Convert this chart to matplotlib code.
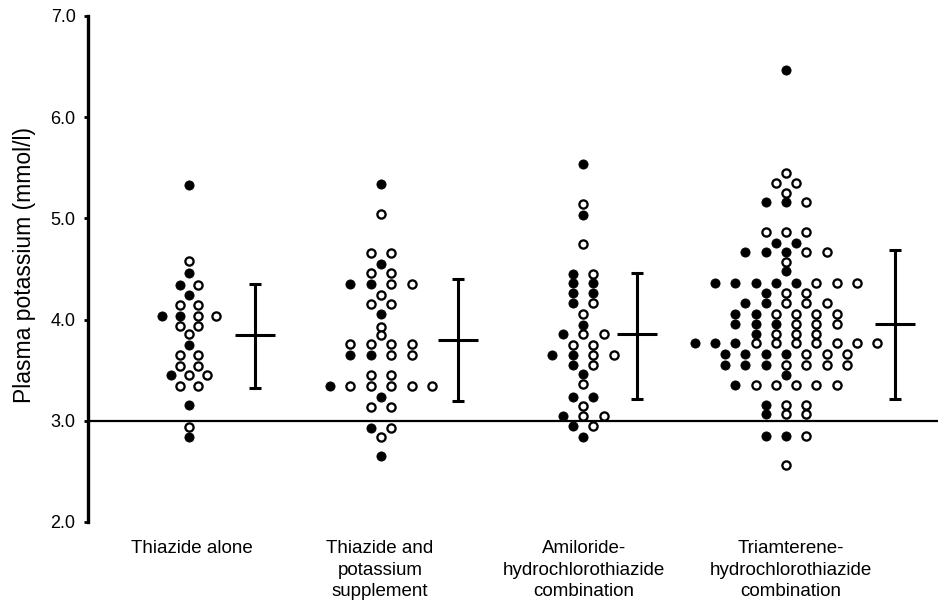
import matplotlib
matplotlib.use("Agg")
import matplotlib.pyplot as plt

plt.rcParams['font.family'] = ['Liberation Sans', 'DejaVu Sans']

# ---------------- data ----------------
categories = ["Thiazide alone",
              "Thiazide and\npotassium\nsupplement",
              "Amiloride-\nhydrochlorothiazide\ncombination",
              "Triamterene-\nhydrochlorothiazide\ncombination"]

thiazide_filled = [5.33, 4.46, 4.34, 4.24, 4.04, 4.04, 3.75, 3.45, 3.16, 2.84]
thiazide_open = [4.58, 4.34, 4.14, 4.14, 4.04, 4.04, 3.94, 3.94, 3.86, 3.65, 3.65,
                 3.54, 3.54, 3.45, 3.45, 3.34, 3.34, 2.94]

supplement_filled = [5.34, 4.55, 4.35, 4.35, 4.06, 3.65, 3.65, 3.34, 3.24, 2.93, 2.65]
supplement_open = [5.04, 4.66, 4.66, 4.46, 4.46, 4.35, 4.35, 4.24, 4.15, 4.15, 3.93,
                   3.85, 3.76, 3.76, 3.76, 3.76, 3.65, 3.65, 3.45, 3.45,
                   3.34, 3.34, 3.34, 3.34, 3.34, 3.14, 3.14, 2.93, 2.84]

amiloride_filled = [5.54, 5.03, 4.45, 4.36, 4.36, 4.26, 4.26, 4.16, 3.95, 3.86,
                    3.65, 3.65, 3.55, 3.46, 3.24, 3.24, 3.05, 2.95, 2.84]
amiloride_open = [5.14, 4.75, 4.45, 4.16, 4.06, 3.86, 3.86, 3.75, 3.75, 3.65, 3.65,
                  3.55, 3.36, 3.15, 3.05, 3.05, 2.95]

triamterene_filled = [6.47, 5.16, 5.16, 4.76, 4.76, 4.67, 4.67, 4.67, 4.48,
                      4.36, 4.36, 4.36, 4.36, 4.36, 4.26, 4.16, 4.16, 4.06, 4.06,
                      3.96, 3.96, 3.96, 3.86, 3.77, 3.77, 3.77,
                      3.66, 3.66, 3.66, 3.66, 3.55, 3.55, 3.55, 3.45, 3.35,
                      3.16, 3.07, 2.85, 2.85]
triamterene_open = [5.45, 5.35, 5.35, 5.25, 5.16, 4.87, 4.87, 4.87, 4.67, 4.67, 4.57,
                    4.36, 4.36, 4.36, 4.26, 4.26, 4.16, 4.16, 4.16,
                    4.06, 4.06, 4.06, 4.06, 3.96, 3.96, 3.96, 3.86, 3.86, 3.86,
                    3.77, 3.77, 3.77, 3.77, 3.77, 3.77, 3.77,
                    3.66, 3.66, 3.66, 3.55, 3.55, 3.55, 3.55,
                    3.35, 3.35, 3.35, 3.35, 3.35, 3.16, 3.16, 3.07, 3.07, 2.85, 2.56]

means = [3.85, 3.80, 3.86, 3.96]
sd_low = [3.32, 3.20, 3.22, 3.22]
sd_high = [4.35, 4.40, 4.46, 4.69]

reference_level = 3.0
yticks = [2.0, 3.0, 4.0, 5.0, 6.0, 7.0]
ytick_labels = ["2.0", "3.0", "4.0", "5.0", "6.0", "7.0"]
ylabel = "Plasma potassium (mmol/l)"

filled_groups = [thiazide_filled, supplement_filled, amiloride_filled, triamterene_filled]
open_groups = [thiazide_open, supplement_open, amiloride_open, triamterene_open]

# ---------------- layout ----------------
W, H = 938, 606
fig = plt.figure(figsize=(W / 100, H / 100), dpi=100)
ax_left, ax_top, ax_bottom = 88, 16, 522
ax = fig.add_axes([ax_left / W, (H - ax_bottom) / H, (W - ax_left) / W,
                   (ax_bottom - ax_top) / H])
ax.set_xlim(ax_left, W)
ax.set_ylim(2.0, 7.0)

dot_centers = [189, 381, 583, 786]
dot_spacing = [18, 20.5, 20.5, 20.3]
bar_x = [255, 458, 637, 895]
label_x = [192, 380, 584, 791]
mean_half = 20

for gi in range(4):
    rows = {}
    for v in filled_groups[gi]:
        rows.setdefault(round(v, 2), []).append(True)
    for v in open_groups[gi]:
        rows.setdefault(round(v, 2), []).append(False)
    fx, fy, ox, oy = [], [], [], []
    for v, kinds in rows.items():
        kinds = sorted(kinds, key=lambda k: not k)
        n = len(kinds)
        for i, k in enumerate(kinds):
            x = dot_centers[gi] + (i - (n - 1) / 2) * dot_spacing[gi]
            if k:
                fx.append(x); fy.append(v)
            else:
                ox.append(x); oy.append(v)
    ax.plot(fx, fy, 'o', ms=6.6, mfc='black', mec='black', mew=0.6,
            linestyle='none', zorder=4)
    ax.plot(ox, oy, 'o', ms=5.9, mfc='white', mec='black', mew=1.65,
            linestyle='none', zorder=4)

# SD bars and means
for gi in range(4):
    ax.errorbar([bar_x[gi]], [means[gi]],
                yerr=[[means[gi] - sd_low[gi]], [sd_high[gi] - means[gi]]],
                fmt='none', ecolor='black', elinewidth=2.2, capsize=4,
                capthick=2.2, zorder=3)
    ax.hlines(means[gi], bar_x[gi] - mean_half, bar_x[gi] + mean_half,
              colors='black', lw=2.2, zorder=3)

# reference line at 3.0
ax.axhline(reference_level, color='black', lw=1.6, zorder=2)

# axes styling
for s in ['top', 'right', 'bottom']:
    ax.spines[s].set_visible(False)
ax.spines['left'].set_linewidth(2.4)
ax.spines['left'].set_capstyle('projecting')
ax.set_yticks(yticks)
ax.set_yticklabels(ytick_labels)
ax.tick_params(axis='y', direction='out', length=3, width=2, labelsize=13, pad=6)
ax.set_xticks(label_x)
ax.set_xticklabels(categories, fontsize=13.5, linespacing=1.35)
ax.tick_params(axis='x', length=0, pad=13)

fig.text(25 / W, 1 - 265 / H, ylabel, rotation=90, ha='center', va='center',
         fontsize=16.5)

fig.savefig('out.png', dpi=100)
